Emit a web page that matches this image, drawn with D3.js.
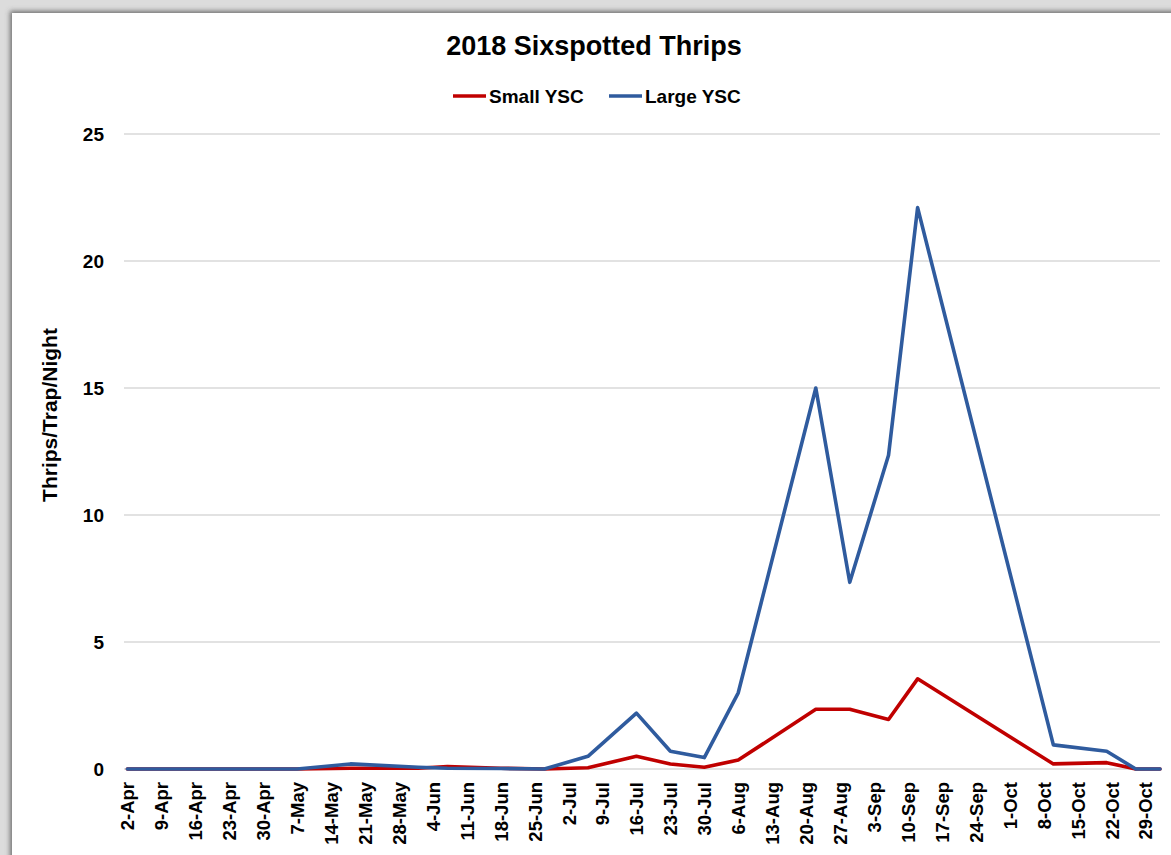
<!DOCTYPE html>
<html>
<head>
<meta charset="utf-8">
<script src="https://cdn.jsdelivr.net/npm/d3@7"></script>
<style>
  html, body { margin: 0; padding: 0; background: #d4d4d4; }
  svg { display: block; }
  text { font-family: "Liberation Sans", Arial, "DejaVu Sans", sans-serif; font-weight: bold; fill: #000; }
</style>
</head>
<body>
<svg id="chart" width="1171" height="855"></svg>
<script>
// Trap sampling dates (2018) and mean thrips caught per trap per night
const sampleDates = [
  "2018-04-02", "2018-04-09", "2018-04-16", "2018-04-23", "2018-04-30",
  "2018-05-07", "2018-05-18", "2018-06-01", "2018-06-07", "2018-06-18",
  "2018-06-27", "2018-07-06", "2018-07-16", "2018-07-23", "2018-07-30",
  "2018-08-06", "2018-08-22", "2018-08-29", "2018-09-06", "2018-09-12",
  "2018-10-10", "2018-10-21", "2018-10-27", "2018-11-01"
];
const smallYSC = [
  0, 0, 0, 0, 0,
  0, 0.03, 0.03, 0.1, 0.03,
  0, 0.05, 0.5, 0.2, 0.07,
  0.35, 2.35, 2.35, 1.95, 3.55,
  0.2, 0.25, 0, 0
];
const largeYSC = [
  0, 0, 0, 0, 0,
  0, 0.2, 0.07, 0.03, 0.02,
  0, 0.5, 2.2, 0.7, 0.45,
  3.0, 15.0, 7.35, 12.35, 22.1,
  0.95, 0.7, 0, 0
];
const weekLabels = [
  "2-Apr", "9-Apr", "16-Apr", "23-Apr", "30-Apr",
  "7-May", "14-May", "21-May", "28-May",
  "4-Jun", "11-Jun", "18-Jun", "25-Jun",
  "2-Jul", "9-Jul", "16-Jul", "23-Jul", "30-Jul",
  "6-Aug", "13-Aug", "20-Aug", "27-Aug",
  "3-Sep", "10-Sep", "17-Sep", "24-Sep",
  "1-Oct", "8-Oct", "15-Oct", "22-Oct", "29-Oct"
];
const yTicks = [0, 5, 10, 15, 20, 25];
const seriesNames = ["Small YSC", "Large YSC"];
const seriesColors = ["#c00000", "#2f5b9e"];

const W = 1171, H = 855;
const svg = d3.select("#chart");

// Card with a soft shadow on its top and left edges
const defs = svg.append("defs");
const f = defs.append("filter").attr("id", "cardShadow")
  .attr("x", "-5%").attr("y", "-5%").attr("width", "110%").attr("height", "110%");
f.append("feDropShadow").attr("dx", -2).attr("dy", -2)
  .attr("stdDeviation", 2.5).attr("flood-color", "#555").attr("flood-opacity", 0.8);

svg.append("rect").attr("width", W).attr("height", H).attr("fill", "#dcdcdc");
svg.append("rect").attr("x", 12).attr("y", 13).attr("width", W + 20).attr("height", H + 20)
  .attr("fill", "#fff").attr("filter", "url(#cardShadow)");

const parseDay = d3.timeParse("%Y-%m-%d");
const parseLabel = d3.timeParse("%d-%b-%Y");
const dates = sampleDates.map(parseDay);

const plot = { left: 125, right: 1160, top: 134, bottom: 769 };

const x = d3.scaleTime()
  .domain([new Date(2018, 3, 1, 12), new Date(2018, 10, 1)])
  .range([plot.left, plot.right]);
const y = d3.scaleLinear().domain([0, 25]).range([plot.bottom, plot.top]);

// Horizontal gridlines
svg.append("g")
  .selectAll("line").data(yTicks).join("line")
  .attr("x1", plot.left - 1).attr("x2", plot.right)
  .attr("y1", d => y(d)).attr("y2", d => y(d))
  .attr("stroke", "#d9d9d9").attr("stroke-width", 1.5);

// Y axis labels
const yAxis = d3.axisLeft(y).tickValues(yTicks).tickSize(0).tickPadding(0);
const gy = svg.append("g").attr("transform", `translate(104,0)`).call(yAxis);
gy.select(".domain").remove();
gy.selectAll("text").attr("font-size", 19).attr("font-family", null)
  .style("font-family", "'Liberation Sans', Arial, sans-serif").attr("font-weight", "bold");

// X axis: weekly date labels, rotated
const tickDates = weekLabels.map(l => parseLabel(l + "-2018"));
const xAxis = d3.axisBottom(x).tickValues(tickDates).tickSize(0).tickPadding(0)
  .tickFormat((d, i) => weekLabels[i]);
const gx = svg.append("g").attr("transform", `translate(0,${plot.bottom})`).call(xAxis);
gx.select(".domain").remove();
gx.selectAll("text")
  .attr("font-size", 18.5).attr("font-weight", "bold")
  .attr("text-anchor", "end")
  .attr("transform", "rotate(-90)")
  .attr("x", -13).attr("y", 0).attr("dy", "0.35em");

// Series lines
const line = d3.line()
  .x((d, i) => x(dates[i]))
  .y(d => y(d));
[smallYSC, largeYSC].forEach((vals, k) => {
  svg.append("path")
    .datum(vals)
    .attr("d", line)
    .attr("fill", "none")
    .attr("stroke", seriesColors[k])
    .attr("stroke-width", 3.6)
    .attr("stroke-linejoin", "round")
    .attr("stroke-linecap", "round");
});

// Title
svg.append("text")
  .attr("x", 594).attr("y", 55)
  .attr("text-anchor", "middle")
  .attr("font-size", 27)
  .text("2018 Sixspotted Thrips");

// Legend
const legendX = [453, 609];
seriesNames.forEach((name, k) => {
  const g = svg.append("g").attr("transform", `translate(${legendX[k]},96)`);
  g.append("line").attr("x1", 0).attr("x2", 33).attr("y1", 0).attr("y2", 0)
    .attr("stroke", seriesColors[k]).attr("stroke-width", 3.6);
  g.append("text").attr("x", 36).attr("y", 0).attr("dy", "0.36em")
    .attr("font-size", 19).text(name);
});

// Y axis title
svg.append("text")
  .attr("transform", "translate(50,415) rotate(-90)")
  .attr("text-anchor", "middle")
  .attr("dy", "0.35em")
  .attr("font-size", 21)
  .text("Thrips/Trap/Night");
</script>
</body>
</html>
